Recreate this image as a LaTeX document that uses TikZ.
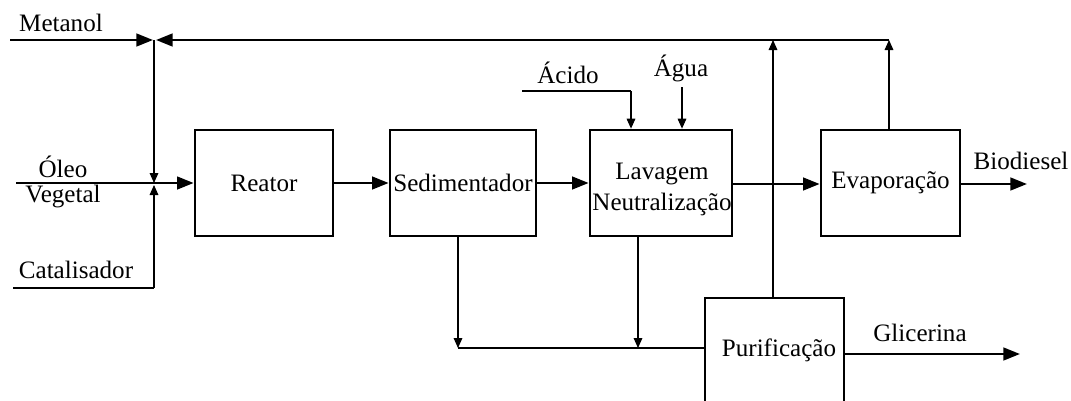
\documentclass[tikz,border=0pt]{standalone}
\usepackage{fontspec}
\setmainfont{Liberation Serif}
\usetikzlibrary{arrows.meta}
\begin{document}
\begin{tikzpicture}[x=0.75pt,y=-0.75pt,
  every node/.style={font=\fontsize{18.8}{22}\selectfont, inner sep=0pt},
  proc/.style={draw, line width=2pt, rectangle, minimum height=79.5pt},
  flow/.style={line width=1.9pt, -{Triangle[length=12.5pt,width=9.5pt]}},
  flowline/.style={line width=1.9pt},
  thin/.style={line width=0.85pt, -{Triangle[length=7.5pt,width=6.5pt]}},
  thinline/.style={line width=0.85pt},
  lbl/.style={}
]
\useasboundingbox (0,0) rectangle (1071,400);

% process boxes
\node[proc, minimum width=103.5pt] (reator) at (264,183) {Reator};
\node[proc, minimum width=109.5pt] (sed) at (463,183) {Sedimentador};
\node[proc, minimum width=106.5pt] (lav) at (661,183) {};
\node[lbl] (lavt) at (662,189) {\begin{tabular}{@{}c@{}}Lavagem\\[1pt]Neutralização\end{tabular}};
\node[proc, minimum width=104.25pt] (evap) at (890.5,183) {Evaporação};
\node[proc, minimum width=104.25pt, minimum height=84pt] (pur) at (774.5,354) {};
\node[lbl] (purt) at (779,350) {Purificação};

% labels
\node[lbl] (metanol) at (61,23) {Metanol};
\node[lbl] (oleo) at (63,167) {Óleo};
\node[lbl] (vegetal) at (63,197) {Vegetal};
\node[lbl] (catal) at (76,270) {Catalisador};
\node[lbl] (acido) at (568,73) {Ácido};
\node[lbl] (agua) at (681,68) {Água};
\node[lbl] (biod) at (1021,161) {Biodiesel};
\node[lbl] (glic) at (920,333) {Glicerina};

% coordinates
\coordinate (mstart) at (10,40);
\coordinate (jm) at (153,40);
\coordinate (jmr) at (156,40);
\coordinate (jo) at (154,183);
\coordinate (jc) at (154,185);
\coordinate (ostart) at (16,183);
\coordinate (cstart) at (13,288);
\coordinate (ccorner) at (154,288);
\coordinate (topev) at (889,40);
\coordinate (toppu) at (773,40);
\coordinate (bioend) at (1027,184);
\coordinate (glend) at (1020,354);
\coordinate (sedj) at (458,348);
\coordinate (lavj) at (638,348);
\coordinate (astart) at (522,91);
\coordinate (acorner) at (631,91);
\coordinate (astart2) at (682,87);

% metanol and recycle
\draw[flow] (mstart) -- (jm);
\draw[flow] (topev) -- (jmr);
\draw[thin] (154,40) -- (jo);
\draw[flowline] (cstart) -- (ccorner);
\draw[thin] (ccorner) -- (jc);
\draw[flow] (ostart) -- (reator.west);

% main line
\draw[flow] (reator.east) -- (sed.west);
\draw[flow] (sed.east) -- (lav.west);
\draw[flow] (lav.east |- 0,184) -- (evap.west |- 0,184);
\draw[flow] (evap.east |- 0,184) -- (bioend);

% acid and water
\draw[flowline] (astart) -- (acorner);
\draw[thin] (acorner) -- (acorner |- lav.north);
\draw[thin] (astart2) -- (astart2 |- lav.north);

% bottom streams
\draw[thin] (sedj |- sed.south) -- (sedj);
\draw[thin] (lavj |- lav.south) -- (lavj);
\draw[flowline] (sedj) -- (pur.west |- sedj);
\draw[flow] (pur.east |- glend) -- (glend);

% recycle verticals
\draw[thin] (toppu |- pur.north) -- (toppu);
\draw[thin] (topev |- evap.north) -- (topev);
\end{tikzpicture}
\end{document}
